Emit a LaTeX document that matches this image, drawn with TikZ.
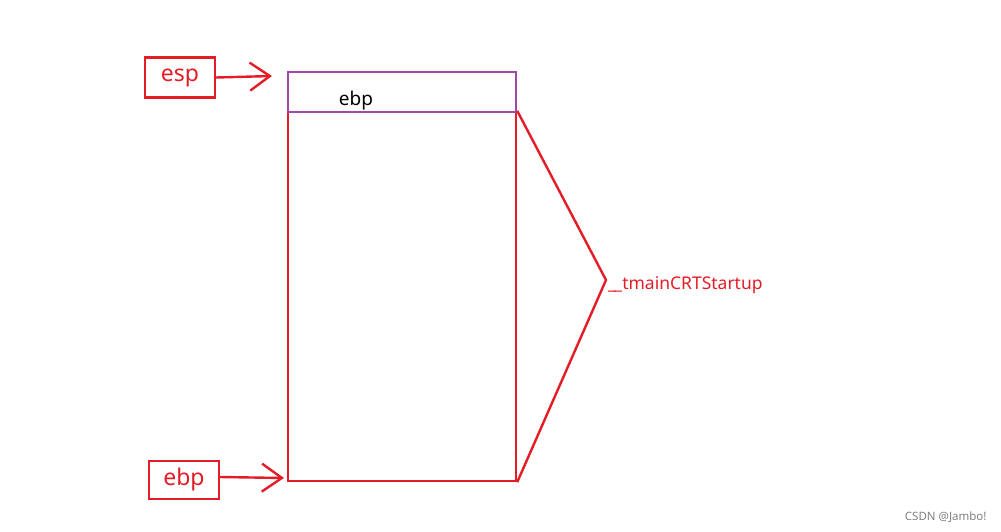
\documentclass[tikz,border=0pt]{standalone}
\usepackage{fontspec}
\setmainfont{Noto Sans}
\usetikzlibrary{arrows.meta,positioning}
\definecolor{penred}{RGB}{228,28,38}
\definecolor{penpurple}{RGB}{160,72,170}
\begin{document}
\begin{tikzpicture}[x=1pt,y=-1pt,>={Straight Barb[length=20pt,width=28pt,line width=2.4pt]}]
  \tikzstyle{regbox}=[draw=penred,line width=2.4pt,text=penred,minimum width=70pt,minimum height=40pt,inner sep=0pt,font=\fontsize{23}{25}\selectfont]
  \tikzstyle{cell}=[draw,line width=2.4pt,inner sep=0pt,minimum width=228pt]
  \useasboundingbox (0,0) rectangle (1001,531);
  \node[cell,draw=penred,minimum height=369pt] (frame) at (402,296.5) {};
  \node[cell,draw=penpurple,minimum height=40pt] (top) at (402,92) {};
  \node[font=\fontsize{19}{21}\selectfont,anchor=base] (toptext) at (356,105) {ebp};
  \node[regbox] (esp) at (180,77.5) {esp};
  \node[regbox,minimum height=38pt] (ebp) at (184,480) {ebp};
  \coordinate (esptip) at (272,76);
  \coordinate (ebptip) at (284,478);
  \node[anchor=west,inner sep=0pt,text=penred,font=\fontsize{17.5}{19}\selectfont] (func) at (608,285) {\_\kern-1.5pt\_tmainCRTStartup};
  \draw[->,penred,line width=2.4pt] (esp.east) -- (esptip);
  \draw[->,penred,line width=2.4pt] ([yshift=3pt]ebp.east) -- (ebptip);
  \draw[penred,line width=2.4pt] (frame.north east) -- ([xshift=-2pt,yshift=5pt]func.west) -- (frame.south east);
  \node[anchor=east,text=gray,font=\fontsize{11.5}{13}\selectfont] (mark) at (990,517) {CSDN @Jambo!};
\end{tikzpicture}
\end{document}
